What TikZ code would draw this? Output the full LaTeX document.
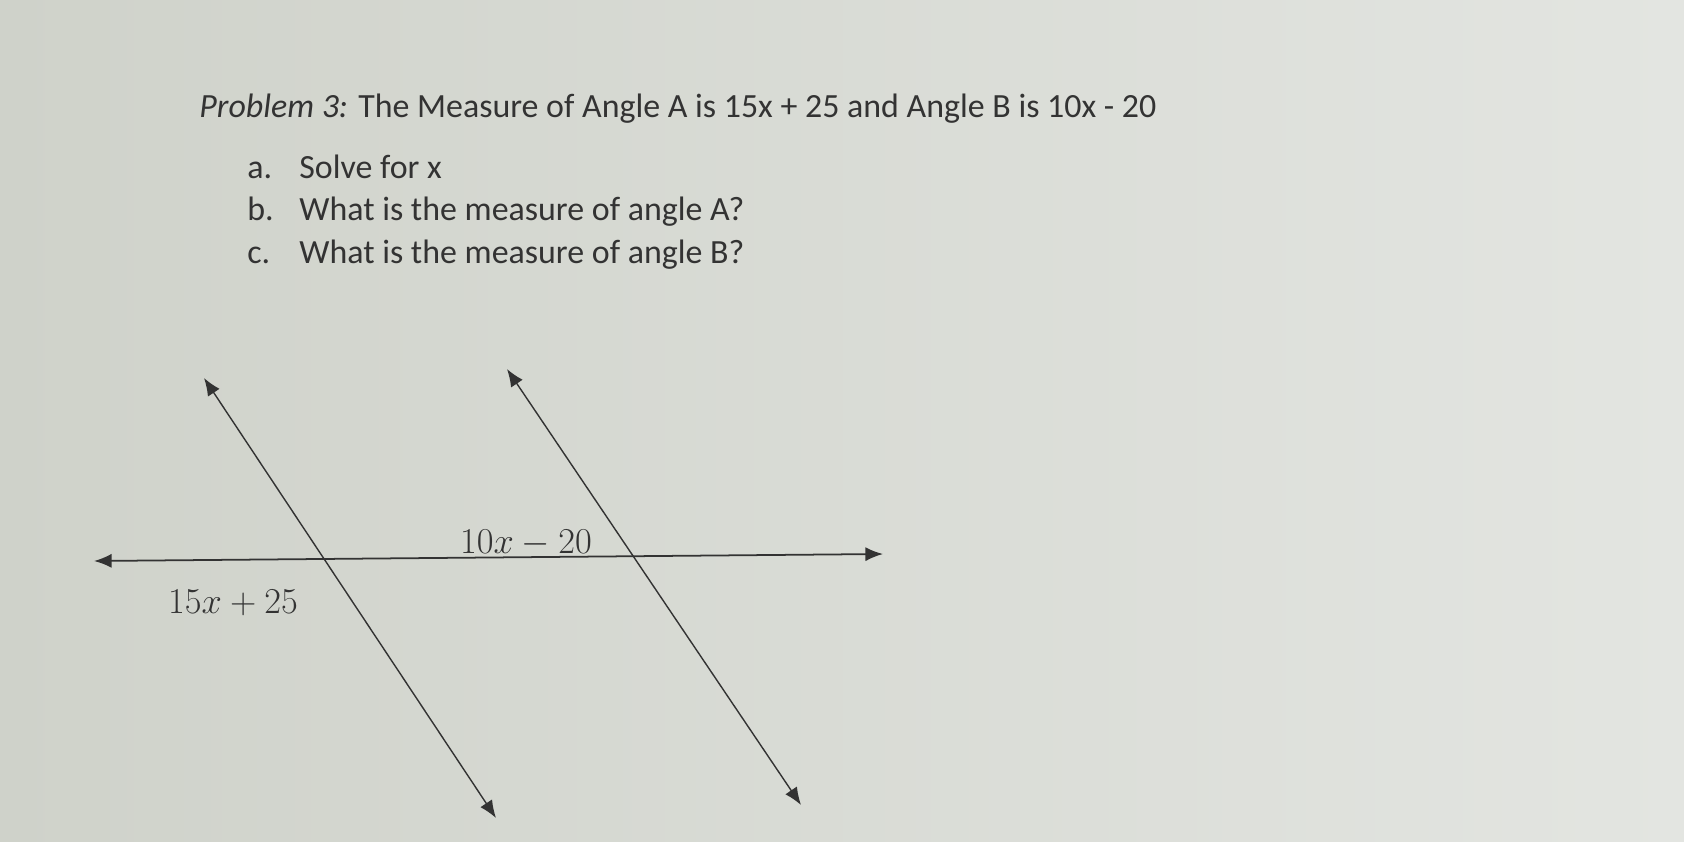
\documentclass[tikz,border=0pt]{standalone}
\usepackage{fontspec}
\setmainfont{Carlito}
\usetikzlibrary{arrows.meta}

\definecolor{ink}{HTML}{333333}
\definecolor{paperL}{HTML}{CFD2CA}
\definecolor{paperR}{HTML}{E3E5E1}

\begin{document}
\begin{tikzpicture}[x=0.02cm,y=-0.02cm,
    txt/.style={text=ink, font=\fontsize{19.3}{22}\selectfont, anchor=base west, inner sep=0pt},
    ang/.style={text=ink, font=\fontsize{20.5}{22}\selectfont, inner sep=0pt},
    ray/.style={draw=ink, line width=1pt,
      {Latex[length=10pt,width=8pt]}-{Latex[length=10pt,width=8pt]}}]
        % sheet
        \shade[left color=paperL, right color=paperR] (0,0) rectangle (1684,842);
        \useasboundingbox (0,0) rectangle (1684,842);

        % problem text
        \node[txt] (title) at (199,117) {\textit{Problem 3:} The Measure of Angle A is 15x + 25 and Angle B is 10x - 20};
        \node[txt] (la) at (247,178) {a.};
        \node[txt] (qa) at (299,178) {Solve for x};
        \node[txt] (lb) at (247,220) {b.};
        \node[txt] (qb) at (299,220) {What is the measure of angle A?};
        \node[txt] (lc) at (247,263) {c.};
        \node[txt] (qc) at (299,263) {What is the measure of angle B?};

        % lines
        \coordinate (hl) at (94,561);
        \coordinate (hr) at (883,554);
        \coordinate (at) at (204,378);
        \coordinate (ab) at (496,818);
        \coordinate (bt) at (507,369);
        \coordinate (bb) at (801,805);
        \draw[ray] (hl) -- (hr);
        \draw[ray, line width=0.8pt] (at) -- (ab);
        \draw[ray, line width=0.8pt] (bt) -- (bb);

        % angles
        \node[ang] (angB) at (526,543) {$10x - 20$};
        \node[ang] (angA) at (233,603) {$15x + 25$};
    \end{tikzpicture}
\end{document}
